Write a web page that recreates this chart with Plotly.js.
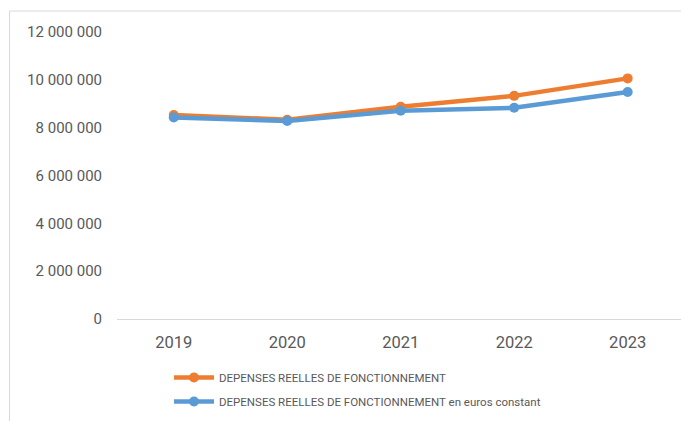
<!DOCTYPE html>
<html>
<head>
<meta charset="utf-8">
<script src="https://cdn.plot.ly/plotly-3.0.1.min.js"></script>
<style>html,body{margin:0;padding:0;background:#fff;}#chart{width:681px;height:421px;}</style>
</head>
<body>
<div id="chart"></div>
<script>
var years = ["2019", "2020", "2021", "2022", "2023"];
var depensesReelles = [8530000, 8330000, 8870000, 9330000, 10060000];
var depensesConstant = [8430000, 8280000, 8710000, 8830000, 9490000];
var seriesNames = ["DEPENSES REELLES DE FONCTIONNEMENT", "DEPENSES REELLES DE FONCTIONNEMENT en euros constant"];
var yTickVals = [0, 2000000, 4000000, 6000000, 8000000, 10000000, 12000000];

var textColor = "#595959";
var traces = [
  {x: years, y: depensesReelles, name: seriesNames[0], type: "scatter", mode: "lines+markers",
   legendgroup: "a",
   line: {color: "#ED7D31", width: 4.5}, marker: {color: "#ED7D31", size: 10}},
  {x: years, y: depensesConstant, name: seriesNames[1], type: "scatter", mode: "lines+markers",
   legendgroup: "b",
   line: {color: "#5B9BD5", width: 4.5}, marker: {color: "#5B9BD5", size: 10}}
];

var layout = {
  width: 681, height: 421,
  margin: {l: 117, r: 0, t: 32, b: 102},
  paper_bgcolor: "#ffffff", plot_bgcolor: "#ffffff",
  separators: ", ",
  font: {family: "Roboto, sans-serif", color: textColor},
  showlegend: true,
  xaxis: {type: "category", range: [-0.5, 4.47], showgrid: false, zeroline: false,
          showline: true, linecolor: "#d9d9d9", linewidth: 1,
          ticks: "", ticklabelstandoff: 8,
          tickfont: {size: 16.5, color: textColor}, fixedrange: true},
  yaxis: {range: [0, 12000000], tickvals: yTickVals, tickformat: ",d",
          showgrid: false, zeroline: false, showline: false, ticks: "",
          ticklabelstandoff: 14,
          tickfont: {size: 15, color: textColor}, fixedrange: true},
  legend: {x: (169 - 117) / 564, xanchor: "left", y: (319 - 363) / 287, yanchor: "top",
           orientation: "v", tracegroupgap: 5, bgcolor: "rgba(0,0,0,0)",
           font: {size: 11.5, color: textColor}, itemwidth: 40},
  shapes: [{type: "rect", xref: "paper", yref: "paper",
            x0: (9.5 - 117) / 564, x1: 2, y0: -1, y1: (319 - 11) / 287,
            line: {color: "#d9d9d9", width: 1}, fillcolor: "rgba(0,0,0,0)", layer: "below"}]
};

Plotly.newPlot("chart", traces, layout, {displayModeBar: false, staticPlot: true});
</script>
</body>
</html>
